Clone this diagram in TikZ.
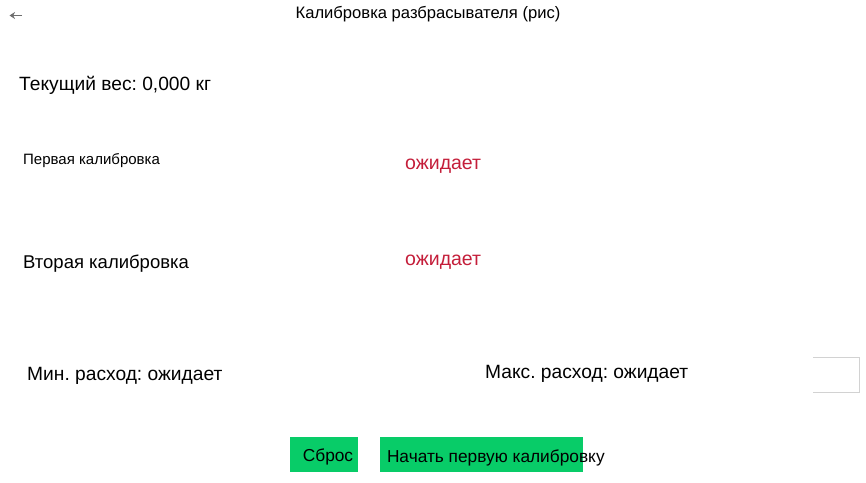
\documentclass[tikz,border=0pt]{standalone}
\usepackage{fontspec}
\setmainfont{Liberation Sans}
\frenchspacing
\usetikzlibrary{
	calc,
	arrows.meta,
	positioning
	}
\definecolor{btngreen}{RGB}{8,204,104}
\definecolor{waitred}{RGB}{196,30,58}
\definecolor{iconGray}{RGB}{110,110,110}
\tikzstyle{txt-std}=[anchor=west,inner sep=0pt,text=black,text height=0.72em,text depth=0.2em]
\tikzstyle{txt-big}=[txt-std,font={\fontsize{19.2pt}{21}\selectfont}]
\tikzstyle{txt-small}=[txt-std,font={\fontsize{15pt}{17}\selectfont}]
\tikzstyle{txt-wait}=[txt-big,text=waitred,font={\fontsize{19.5pt}{21}\selectfont}]
\tikzstyle{bouton}=[fill=btngreen,inner sep=0pt,minimum height=35pt]
\newcommand{\lbl}[1]{{\fontsize{17.3pt}{19}\selectfont #1}}

\begin{document}
\begin{tikzpicture}[x=1pt,y=-1pt]
        \useasboundingbox (0,0) rectangle (866,482);
        % en-tete
        \coordinate (back-b) at (22,15.5);
        \coordinate (back-a) at (9.5,15.5);
        \draw[iconGray, line width=1.4pt, -{Stealth[length=5.5pt,width=7pt]}] (back-b) -- (back-a);
        \node[txt-std, anchor=center, font={\fontsize{16.6pt}{18}\selectfont}] (titre) at (428,16) {Калибровка разбрасывателя (рис)};
        %
        \node[txt-big] (poids) at (19,88) {Текущий вес: 0,000 кг};

        \node[txt-small] (calib1) at (23,162) {Первая калибровка};
        \node[txt-wait] (etat1) at (405,167) {ожидает};

        \node[txt-big, font={\fontsize{18.5pt}{20}\selectfont}] (calib2) at (23,266) {Вторая калибровка};
        \node[txt-wait] (etat2) at (405,263) {ожидает};

        \node[txt-big] (debitmin) at (27,378) {Мин. расход: ожидает};
        \node[txt-big] (debitmax) at (485,376) {Макс. расход: ожидает};

        % case vide
        \draw[gray!35, line width=0.8pt] (813,357) -- (859,357) -- (859,392) -- (813,392);

        % boutons
        \node[bouton, minimum width=68pt] (reset) at (324,454.5) {};
        \node[txt-std, anchor=center] (reset-txt) at ($(reset)+(4,4)$) {\lbl{Сброс}};
        \node[bouton, minimum width=203pt] (start) at (481.5,454.5) {};
        \node[txt-std] (start-txt) at ($(start.west)+(7,5)$) {\lbl{Начать первую калибровку}};
    \end{tikzpicture}
\end{document}
